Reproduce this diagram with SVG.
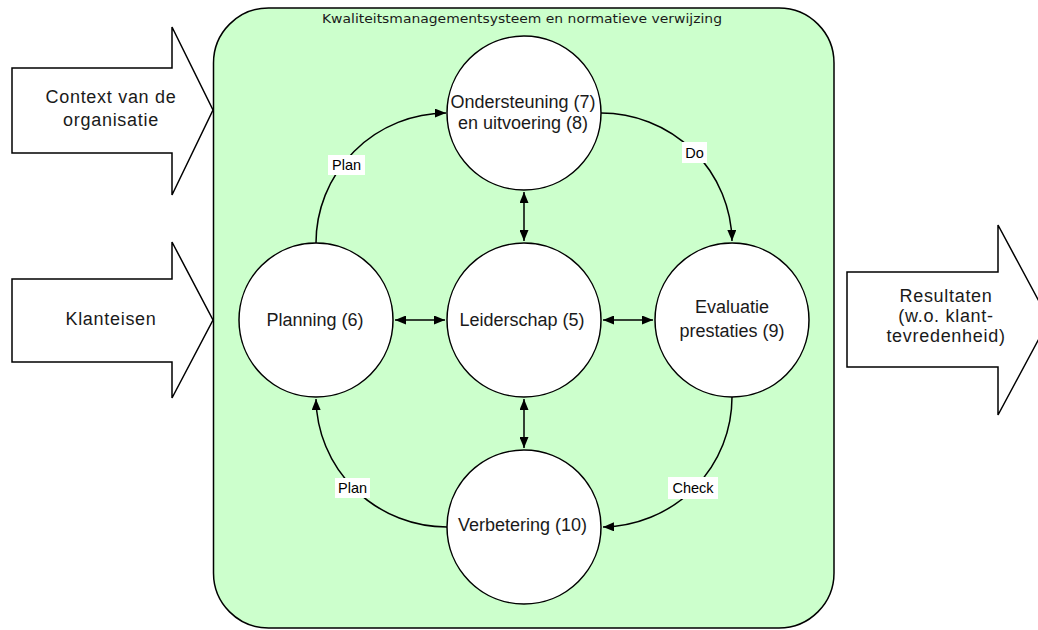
<svg xmlns="http://www.w3.org/2000/svg" width="1038" height="630" viewBox="0 0 1038 630">
<style>
.box{fill:#ccffcc;stroke:#000;stroke-width:1.5}
.node{fill:#fff;stroke:#000;stroke-width:1.5}
.io{fill:#fff;stroke:#000;stroke-width:1.5;stroke-linejoin:miter}
.t{font-family:"Liberation Sans",Arial,sans-serif;font-size:18px;fill:#1a1a1a;text-anchor:middle}
.io-t{font-family:"Liberation Sans",Arial,sans-serif;font-size:18px;fill:#1a1a1a;text-anchor:middle;letter-spacing:0.7px}
.title{font-family:"DejaVu Sans",Verdana,sans-serif;font-size:12.5px;fill:#1a1a1a}
.lbl{font-family:"Liberation Sans",Arial,sans-serif;font-size:14.5px;fill:#000;text-anchor:middle}
.lblbg{fill:#fff;stroke:none}
.c{fill:none;stroke:#000;stroke-width:1.5}
</style>
<defs>
<marker id="ah" viewBox="0 0 11 9" refX="11" refY="4.5" markerWidth="11" markerHeight="9" markerUnits="userSpaceOnUse" orient="auto-start-reverse">
<path d="M0,0 L11,4.5 L0,9 z" fill="#000"/>
</marker>
</defs>

<g id="container">
<rect class="box" x="213.5" y="8" width="620.5" height="620" rx="55" ry="55"/>
<text class="title" x="322" y="23" textLength="400" lengthAdjust="spacingAndGlyphs">Kwaliteitsmanagementsysteem en normatieve verwijzing</text>
</g>

<g id="input-context">
<polygon class="io" points="12,68 172,68 172,27 213,110 172,195 172,153 12,153"/>
<text class="io-t" x="111" y="103">Context van de</text>
<text class="io-t" x="111" y="126">organisatie</text>
</g>

<g id="input-klanteisen">
<polygon class="io" points="12,279 172,279 172,242 213,320 172,398 172,362 12,362"/>
<text class="io-t" x="111" y="325">Klanteisen</text>
</g>

<g id="output-resultaten">
<polygon class="io" points="847,272 998,272 998,225 1049,320 998,415 998,367 847,367"/>
<text class="io-t" x="946" y="302">Resultaten</text>
<text class="io-t" x="946" y="322">(w.o. klant-</text>
<text class="io-t" x="946" y="342">tevredenheid)</text>
</g>

<g id="connectors">
<path class="c" d="M316,243 A131,130 0 0 1 446,113" marker-end="url(#ah)"/>
<path class="c" d="M601,113 A131,130 0 0 1 732,241" marker-end="url(#ah)"/>
<path class="c" d="M732,397 A131,130 0 0 1 603,527" marker-end="url(#ah)"/>
<path class="c" d="M447,527 A131,130 0 0 1 316,399" marker-end="url(#ah)"/>
<path class="c" d="M395,320 H445" marker-start="url(#ah)" marker-end="url(#ah)"/>
<path class="c" d="M603,320 H653" marker-start="url(#ah)" marker-end="url(#ah)"/>
<path class="c" d="M524,192 V241" marker-start="url(#ah)" marker-end="url(#ah)"/>
<path class="c" d="M524,399 V448" marker-start="url(#ah)" marker-end="url(#ah)"/>
<rect class="lblbg" x="328" y="155" width="37" height="20"/>
<text class="lbl" x="346.5" y="170">Plan</text>
<rect class="lblbg" x="682" y="142" width="25" height="21"/>
<text class="lbl" x="694.5" y="158">Do</text>
<rect class="lblbg" x="668" y="477" width="50" height="22"/>
<text class="lbl" x="693" y="493">Check</text>
<rect class="lblbg" x="335" y="478" width="35" height="20"/>
<text class="lbl" x="352.5" y="493">Plan</text>
</g>

<g id="node-ondersteuning">
<circle class="node" cx="524" cy="113" r="77"/>
<text class="t" x="523" y="108">Ondersteuning (7)</text>
<text class="t" x="523" y="129">en uitvoering (8)</text>
</g>

<g id="node-planning">
<circle class="node" cx="316" cy="320" r="77"/>
<text class="t" x="315" y="326">Planning (6)</text>
</g>

<g id="node-leiderschap">
<circle class="node" cx="524" cy="320" r="77"/>
<text class="t" x="522" y="326">Leiderschap (5)</text>
</g>

<g id="node-evaluatie">
<circle class="node" cx="732" cy="320" r="77"/>
<text class="t" x="732" y="313">Evaluatie</text>
<text class="t" x="732" y="337">prestaties (9)</text>
</g>

<g id="node-verbetering">
<circle class="node" cx="524" cy="527" r="77"/>
<text class="t" x="522.5" y="531">Verbetering (10)</text>
</g>
</svg>
